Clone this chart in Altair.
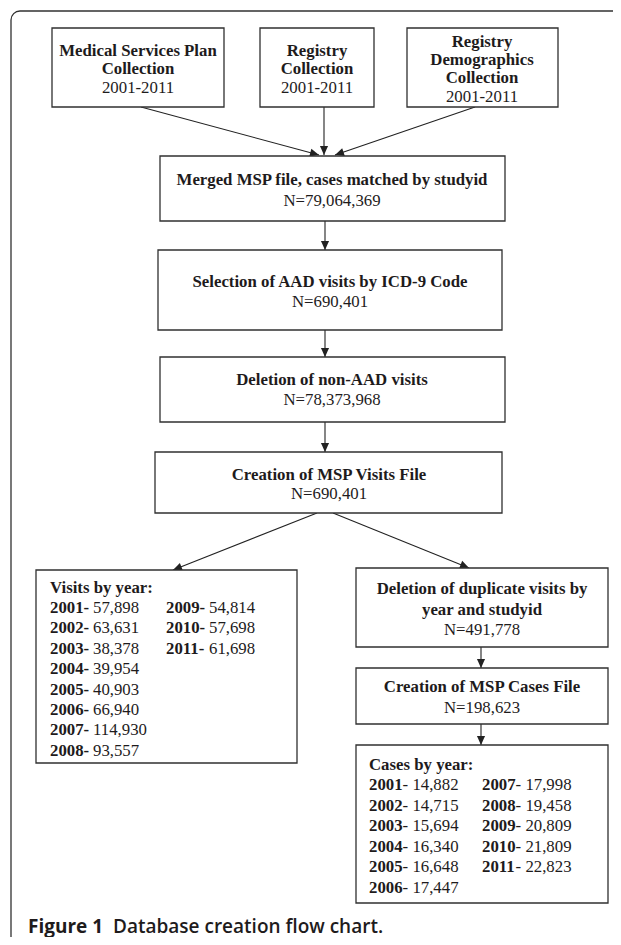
import math
import altair as alt
import pandas as pd

# ---------------- content ----------------
box_ids = ["msp", "reg", "demo", "merged", "select", "delete", "visits_file",
           "visits_year", "dup", "cases_file", "cases_year"]
box_x0 = [52, 260, 407, 160, 158, 160, 155, 36, 356, 356, 356]
box_x1 = [224, 374, 558, 505, 502, 505, 502, 297, 608, 608, 608]
box_y0 = [28, 28, 28, 156, 250, 357, 452, 570, 568, 668, 745]
box_y1 = [107, 107, 107, 221, 330, 422, 513, 763, 647, 724, 903]

line_text = ["Medical Services Plan", "Collection", "2001-2011",
             "Registry", "Collection", "2001-2011",
             "Registry", "Demographics", "Collection", "2001-2011",
             "Merged MSP file, cases matched by studyid", "N=79,064,369",
             "Selection of AAD visits by ICD-9 Code", "N=690,401",
             "Deletion of non-AAD visits", "N=78,373,968",
             "Creation of MSP Visits File", "N=690,401",
             "Deletion of duplicate visits by", "year and studyid", "N=491,778",
             "Creation of MSP Cases File", "N=198,623"]
line_bold = [1, 1, 0, 1, 1, 0, 1, 1, 1, 0, 1, 0, 1, 0, 1, 0, 1, 0, 1, 1, 0, 1, 0]
line_x = [138] * 3 + [317] * 3 + [482] * 4 + [332] * 2 + [330] * 2 + [332] * 2 + [329] * 2 + [482] * 3 + [482] * 2
line_y = [50.5, 68.5, 87.5, 50.5, 68.5, 87.5, 42, 60, 78, 97, 180, 201, 282, 302, 380, 400,
          475, 494, 588.5, 609.5, 630, 687, 708]

years = ["2001", "2002", "2003", "2004", "2005", "2006", "2007", "2008", "2009", "2010", "2011"]
visits_counts = ["57,898", "63,631", "38,378", "39,954", "40,903", "66,940",
                 "114,930", "93,557", "54,814", "57,698", "61,698"]
cases_counts = ["14,882", "14,715", "15,694", "16,340", "16,648", "17,447",
                "17,998", "19,458", "20,809", "21,809", "22,823"]

visits_header = "Visits by year:"
cases_header = "Cases by year:"

arrow_x0 = [141, 324, 475, 325, 325, 325, 317, 333, 481, 481]
arrow_y0 = [107, 107, 107, 221, 330, 422, 513, 513, 647, 724]
arrow_x1 = [319, 324, 335, 325, 325, 325, 173, 469, 481, 481]
arrow_y1 = [155, 155, 155, 250, 357, 452, 570, 568, 668, 745]

caption_bold = "Figure 1"
caption_rest = "Database creation flow chart."

# ---------------- tables ----------------
boxes = pd.DataFrame({"id": box_ids, "x0": box_x0, "x1": box_x1, "y0": box_y0, "y1": box_y1})

lines = pd.DataFrame({"text": line_text, "x": line_x, "y": line_y,
                      "w": ["bold" if b else "normal" for b in line_bold]})

FS = 16.8
rows = []
for i, (yr, v) in enumerate(zip(years, visits_counts)):
    col = 0 if i < 8 else 1
    r = i if i < 8 else i - 8
    x = 50 if col == 0 else 166
    y = 608 + 20.4 * r
    rows.append({"text": yr + "-", "x": x, "y": y, "w": "bold"})
    rows.append({"text": v, "x": x + 43, "y": y, "w": "normal"})
rows.append({"text": visits_header, "x": 50, "y": 588, "w": "bold"})
for i, (yr, v) in enumerate(zip(years, cases_counts)):
    col = 0 if i < 6 else 1
    r = i if i < 6 else i - 6
    x = 369 if col == 0 else 482
    y = 785 + 20.5 * r
    rows.append({"text": yr, "x": x, "y": y, "w": "bold"})
    rows.append({"text": "- " + v, "x": x + 33.6, "y": y, "w": "normal"})
rows.append({"text": cases_header, "x": 369, "y": 765, "w": "bold"})
lists = pd.DataFrame(rows)

arrows = pd.DataFrame({"x0": arrow_x0, "y0": arrow_y0, "x1": arrow_x1, "y1": arrow_y1})
arrows["angle"] = [(math.degrees(math.atan2(-(b - a), (d - c))) + 360) % 360
                   for a, b, c, d in zip(arrows.x0, arrows.x1, arrows.y0, arrows.y1)]

# outer frame: open to the right and bottom, rounded top-left corner
frame_lines = pd.DataFrame({"x0": [20, 11], "x1": [640, 11], "y0": [11, 20], "y1": [11, 960]})
frame_corner = pd.DataFrame({"cx": [20], "cy": [20]})

caption = pd.DataFrame({"text": [caption_bold, caption_rest], "x": [28, 113], "y": [932.5, 932.5],
                        "w": ["bold", "600"]})

# ---------------- scales ----------------
W, H = 605, 929
xs = alt.Scale(domain=[8, 8 + W], nice=False, zero=False)
ys = alt.Scale(domain=[8, 8 + H], nice=False, zero=False, reverse=True)
INK = "#1e1b1c"
LINE = "#303030"


def X(f):
    return alt.X(f, type="quantitative", scale=xs, axis=None)


def Y(f):
    return alt.Y(f, type="quantitative", scale=ys, axis=None)


def text_layers(df, font, size, align, baseline="middle"):
    out = []
    for w in df["w"].unique():
        sub = df[df["w"] == w]
        out.append(alt.Chart(sub).mark_text(
            font=font, fontSize=size, fontWeight=w if w in ("bold", "normal") else int(w),
            align=align, baseline=baseline, color=INK
        ).encode(x=X("x"), y=Y("y"), text="text:N"))
    return out


frame_rules = alt.Chart(frame_lines).mark_rule(color=LINE, strokeWidth=1.3, clip=True).encode(
    x=X("x0"), x2="x1", y=Y("y0"), y2="y1")

corner = alt.Chart(frame_corner).mark_arc(
    theta=3 * math.pi / 2, theta2=2 * math.pi, innerRadius=8.35, outerRadius=9.65,
    color=LINE
).encode(x=X("cx"), y=Y("cy"))

box_layer = alt.Chart(boxes).mark_rect(
    fill="white", stroke=LINE, strokeWidth=1.3
).encode(x=X("x0"), x2="x1", y=Y("y0"), y2="y1")

rule_layer = alt.Chart(arrows).mark_rule(color="#222222", strokeWidth=1.1).encode(
    x=X("x0"), x2="x1", y=Y("y0"), y2="y1")

head_layer = alt.Chart(arrows).mark_point(
    shape="M0,0L-0.45,-1L0.45,-1Z", filled=True, fill="#222222", strokeWidth=0,
    size=324, opacity=1
).encode(x=X("x1"), y=Y("y1"), angle=alt.Angle("angle:Q", scale=None))

layers = [frame_rules, corner, rule_layer, head_layer, box_layer]
layers += text_layers(lines, "Liberation Serif", FS, "center")
layers += text_layers(lists, "Liberation Serif", FS, "left")
layers += text_layers(caption, "Open Sans", 19, "left", baseline="alphabetic")

chart = alt.layer(*layers).properties(
    width=W, height=H, padding=0, background="white",
    autosize=alt.AutoSizeParams(type="none")
).configure_view(stroke=None)

chart.save("out.html", embed_options={"renderer": "svg", "actions": False})
